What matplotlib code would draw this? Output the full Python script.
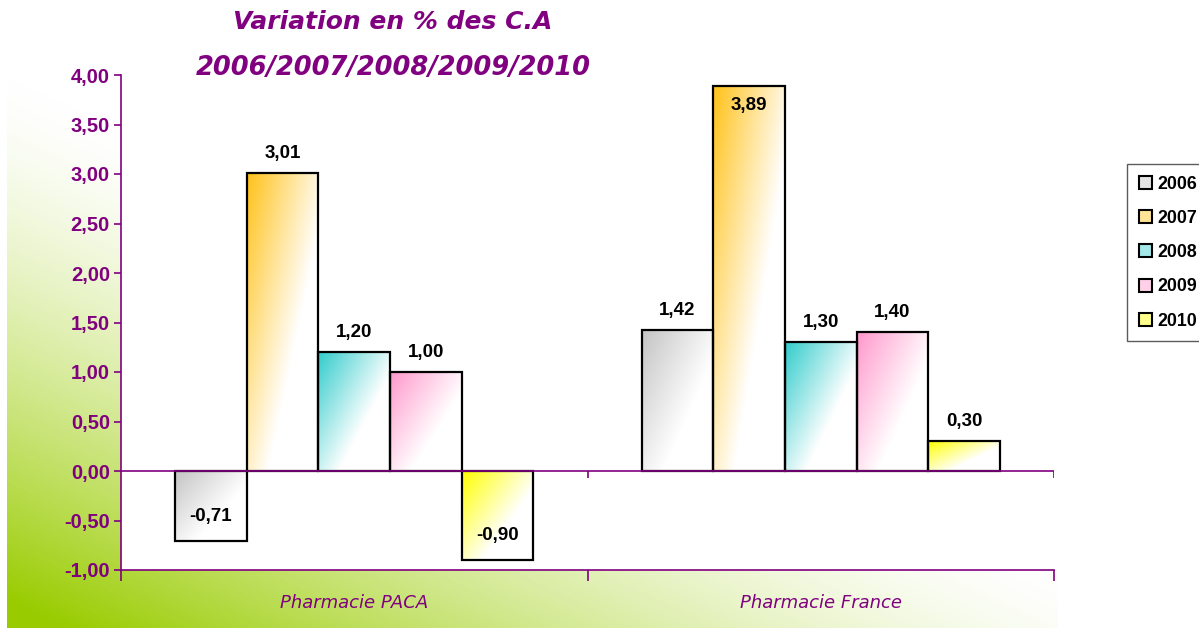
import numpy as np
from matplotlib import pyplot as plt
from matplotlib.patches import Patch
from matplotlib.colors import to_rgb

# variation du C.A en %, par annee et par categorie
categories = ["Pharmacie PACA", "Pharmacie France"]
years = ["2006", "2007", "2008", "2009", "2010"]
values = {
    "2006": [-0.71, 1.42],
    "2007": [3.01, 3.89],
    "2008": [1.20, 1.30],
    "2009": [1.00, 1.40],
    "2010": [-0.90, 0.30],
}
colors = ["#c4c4c4", "#ffc21a", "#33cccc", "#ff99cc", "#ffff00"]
yticks = np.arange(-1.0, 4.01, 0.5)

purple = "#800080"
W, H = 1199, 628

def fmt(v):
    return f"{v:.2f}".replace(".", ",")

fig = plt.figure(figsize=(W / 100, H / 100), dpi=100)
fig.patch.set_facecolor("white")

# green gradient behind the chart
bg = fig.add_axes([7 / W, 0, (1058 - 7) / W, (H - 78) / H], zorder=0)
xn = np.linspace(0, 1, 400)[None, :]
yn = np.linspace(0, 1, 200)[:, None]
g = np.clip(yn * 1.05 - xn * 0.95, 0, 1) ** 1.45
green = np.array(to_rgb("#99cc00"))
img = 1 - g[..., None] * (1 - green)
bg.imshow(img, aspect="auto", extent=[0, 1, 0, 1], origin="upper")
bg.set_axis_off()

ax = fig.add_axes([121 / W, 1 - 570 / H, (1054 - 121) / W, (570 - 75) / H], zorder=1)
ax.set_facecolor("white")

x = np.arange(len(categories))
bw = 0.1535
# diagonal gradient, scaled to each bar: colour at top-left, white at bottom-right
u = np.linspace(0, 1, 60)[None, :]
vn = np.linspace(0, 1, 120)[:, None]
fade = np.clip(0.85 * u + 0.75 * vn, 0, 1)
for i, (yr, col) in enumerate(zip(years, colors)):
    bars = ax.bar(x + (i - 2) * bw, values[yr], bw, facecolor="none",
                  edgecolor="black", linewidth=1.6, zorder=3)
    c = np.array(to_rgb(col))
    grad = 1 - (1 - fade[..., None]) * (1 - c)
    for b, v in zip(bars, values[yr]):
        x0, w = b.get_x(), b.get_width()
        ext = [x0, x0 + w, 0, v] if v >= 0 else [x0, x0 + w, v, 0]
        ax.imshow(grad, aspect="auto", extent=ext, origin="upper", zorder=2)
        # data label
        off = 0.2
        if abs(v) + off + 0.12 > (4.0 if v > 0 else 1.0):
            ly = v - np.sign(v) * (off if v > 0 else 0.25)
        else:
            ly = v + np.sign(v) * off
        ax.text(x0 + w / 2, ly, fmt(v), ha="center", va="center",
                fontsize=13.5, fontweight="bold", family="Liberation Sans",
                color="black", zorder=4)

ax.set_xlim(-0.5, 1.5)
ax.set_ylim(-1.0, 4.0)

# axis styling
for s in ["top", "right"]:
    ax.spines[s].set_visible(False)
for s in ["left", "bottom"]:
    ax.spines[s].set_color(purple)
    ax.spines[s].set_linewidth(1.2)
ax.axhline(0, color=purple, linewidth=1.2, zorder=3)
ax.vlines([0.5, 1.5], -0.07, 0, color=purple, linewidth=1.2, zorder=3)

ax.set_yticks(yticks)
ax.set_yticklabels([fmt(t) for t in yticks])
ax.tick_params(axis="y", colors=purple, length=5, width=1.2, labelsize=14.5, pad=3)
for lab in ax.get_yticklabels():
    lab.set_fontweight("bold")
    lab.set_family("Liberation Sans")

ax.set_xticks([-0.5, 0.5, 1.5])
ax.set_xticklabels([])
ax.tick_params(axis="x", which="major", colors=purple, length=8, width=1.2, direction="out")
ax.set_xticks(x, minor=True)
ax.set_xticklabels(categories, minor=True)
ax.tick_params(axis="x", which="minor", length=0, pad=17, labelsize=13, labelcolor=purple)
for lab in ax.get_xticklabels(minor=True):
    lab.set_fontstyle("italic")

# title
fig.text(393 / W, 1 - 22 / H, "Variation en % des C.A", ha="center", va="center",
         fontsize=18, fontweight="bold", fontstyle="italic", color=purple)
fig.text(393 / W, 1 - 68 / H, "2006/2007/2008/2009/2010", ha="center", va="center",
         fontsize=18.5, fontweight="bold", fontstyle="italic", color=purple)

# legend
handles = [Patch(facecolor=1 - 0.45 * (1 - np.array(to_rgb(c))), edgecolor="black",
                 linewidth=1.5, label=y) for y, c in zip(years, colors)]
leg = fig.legend(handles=handles, loc="upper left",
                 bbox_to_anchor=(1127 / W, 1 - 164 / H), borderaxespad=0,
                 frameon=True, fancybox=False, handlelength=0.75, handleheight=0.75,
                 handletextpad=0.3, labelspacing=0.97, borderpad=0.65,
                 prop={"family": "Liberation Sans", "weight": "bold", "size": 12.8})
leg.get_frame().set_edgecolor("#333333")
leg.get_frame().set_linewidth(1.0)

fig.savefig("out.png", dpi=100)
